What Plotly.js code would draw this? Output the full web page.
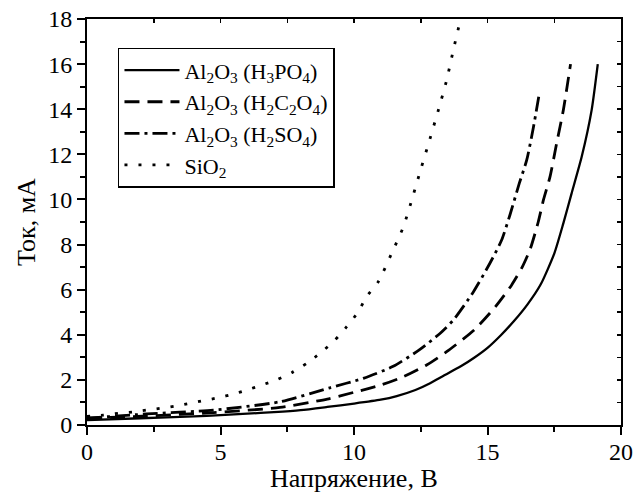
<!DOCTYPE html>
<html>
<head>
<meta charset="utf-8">
<script src="https://cdn.plot.ly/plotly-3.0.1.min.js"></script>
<style>html,body{margin:0;padding:0;background:#fff;}#chart{width:634px;height:502px;}</style>
</head>
<body>
<div id="chart"></div>
<script>
// Al2O3 (H3PO4) - solid
const xH3PO4 = [0, 2, 4, 5, 6, 7, 8, 9, 10, 11, 11.6, 12.3, 12.85, 13.22, 14.0, 14.5, 15.0, 15.5, 16.0, 16.5, 17.0, 17.5, 17.84, 18.15, 18.53, 18.9, 19.13];
const yH3PO4 = [0.22, 0.3, 0.38, 0.44, 0.5, 0.57, 0.66, 0.8, 0.95, 1.12, 1.28, 1.55, 1.85, 2.1, 2.6, 2.98, 3.42, 3.98, 4.62, 5.35, 6.25, 7.6, 8.94, 10.27, 11.9, 13.96, 16.0];
// Al2O3 (H2C2O4) - dash
const xH2C2O4 = [0, 2.23, 4.73, 7.23, 9.0, 10.0, 11.0, 11.85, 12.72, 13.47, 14.5, 15.3, 15.9, 16.3, 16.6, 16.9, 17.1, 17.34, 17.59, 17.84, 18.11];
const yH2C2O4 = [0.3, 0.4, 0.55, 0.78, 1.15, 1.45, 1.77, 2.14, 2.66, 3.25, 4.21, 5.25, 6.2, 7.0, 7.8, 9.0, 10.0, 11.0, 12.49, 13.96, 16.0];
// Al2O3 (H2SO4) - dashdot
const xH2SO4 = [0, 2.23, 4.73, 7.23, 9.1, 10.35, 11.47, 12.47, 13.22, 13.72, 14.47, 15.09, 15.53, 15.84, 16.19, 16.47, 16.72, 16.94];
const yH2SO4 = [0.3, 0.49, 0.66, 1.03, 1.65, 2.07, 2.6, 3.35, 4.06, 4.65, 5.9, 7.17, 8.2, 9.31, 10.71, 11.75, 13.2, 14.7];
// SiO2 - dot
const xSiO2 = [0, 0.61, 1.17, 1.73, 2.23, 2.73, 3.3, 3.86, 4.36, 4.92, 5.48, 5.98, 6.54, 7.1, 7.67, 8.23, 8.73, 9.29, 9.73, 10.16, 10.47, 10.91, 11.41, 11.85, 12.2, 12.53, 12.85, 13.16, 13.47, 13.72, 13.97, 14.0];
const ySiO2 = [0.38, 0.44, 0.52, 0.58, 0.66, 0.74, 0.84, 0.96, 1.08, 1.21, 1.37, 1.55, 1.77, 2.0, 2.32, 2.73, 3.18, 3.77, 4.36, 5.02, 5.69, 6.35, 7.61, 8.79, 10.12, 11.45, 12.71, 13.96, 15.29, 16.62, 17.88, 18.0];

const names = ['Al<sub>2</sub>O<sub>3</sub> (H<sub>3</sub>PO<sub>4</sub>)',
               'Al<sub>2</sub>O<sub>3</sub> (H<sub>2</sub>C<sub>2</sub>O<sub>4</sub>)',
               'Al<sub>2</sub>O<sub>3</sub> (H<sub>2</sub>SO<sub>4</sub>)',
               'SiO<sub>2</sub>'];
const xTitle = 'Напряжение, В';
const yTitle = 'Ток, мА';

const FONT = "Liberation Serif";

const traces = [
  {x: xH3PO4, y: yH3PO4, name: names[0], mode: 'lines', line: {color: '#000', width: 2.3, dash: 'solid', shape: 'spline', smoothing: 0.6}},
  {x: xH2C2O4, y: yH2C2O4, name: names[1], mode: 'lines', line: {color: '#000', width: 2.8, dash: '15px,8px', shape: 'spline', smoothing: 0.6}},
  {x: xH2SO4, y: yH2SO4, name: names[2], mode: 'lines', line: {color: '#000', width: 2.8, dash: '15px,5px,3px,5px', shape: 'spline', smoothing: 0.6}},
  {x: xSiO2, y: ySiO2, name: names[3], mode: 'lines', line: {color: '#000', width: 2.8, dash: '3px,11px', shape: 'spline', smoothing: 0.6}},
  {x: [], y: [], xaxis: 'x2', yaxis: 'y2', showlegend: false, hoverinfo: 'skip'}
];

const layout = {
  width: 634, height: 502,
  margin: {l: 87, r: 13, t: 19, b: 77},
  paper_bgcolor: '#fff', plot_bgcolor: '#fff',
  font: {family: FONT, color: '#000', size: 24},
  showlegend: true,
  legend: {
    x: 0.058, y: 0.929, xanchor: 'left', yanchor: 'top',
    bordercolor: '#000', borderwidth: 1.5, bgcolor: '#fff',
    font: {family: FONT, size: 22, color: '#000'},
    tracegroupgap: 0, itemwidth: 55
  },
  annotations: [
    {text: xTitle, xref: 'paper', yref: 'paper', x: 0.5, y: -0.131, xanchor: 'center', yanchor: 'middle',
     showarrow: false, font: {family: FONT, size: 26, color: '#000'}}
  ],
  xaxis: {
    range: [0, 20], dtick: 5, tick0: 0, ticks: 'outside', ticklen: 8, tickwidth: 2, tickcolor: '#000',
    showline: true, linewidth: 2, linecolor: '#000', showgrid: false, zeroline: false,
    tickfont: {family: FONT, size: 24}, ticklabelstandoff: -4,
    minor: {dtick: 2.5, ticks: 'outside', ticklen: 5, tickwidth: 2, tickcolor: '#000', showgrid: false}
  },
  yaxis: {
    range: [0, 18], dtick: 2, tick0: 0, ticks: 'outside', ticklen: 8, tickwidth: 2, tickcolor: '#000',
    showline: true, linewidth: 2, linecolor: '#000', showgrid: false, zeroline: false,
    tickfont: {family: FONT, size: 24}, title: {text: yTitle, font: {family: FONT, size: 26}, standoff: 5},
    minor: {dtick: 1, ticks: 'outside', ticklen: 5, tickwidth: 2, tickcolor: '#000', showgrid: false}
  },
  xaxis2: {
    overlaying: 'x', side: 'top', anchor: 'y2', range: [0, 20], dtick: 2.5, ticks: 'inside', ticklen: 4, tickwidth: 1.5, tickcolor: '#000',
    showticklabels: false, showline: true, linewidth: 2, linecolor: '#000', showgrid: false, zeroline: false
  },
  yaxis2: {
    overlaying: 'y', side: 'right', anchor: 'x2', range: [0, 18], dtick: 1, ticks: 'inside', ticklen: 4, tickwidth: 1.5, tickcolor: '#000',
    showticklabels: false, showline: true, linewidth: 2, linecolor: '#000', showgrid: false, zeroline: false
  }
};

Plotly.newPlot('chart', traces, layout, {staticPlot: true, displayModeBar: false});
</script>
</body>
</html>
